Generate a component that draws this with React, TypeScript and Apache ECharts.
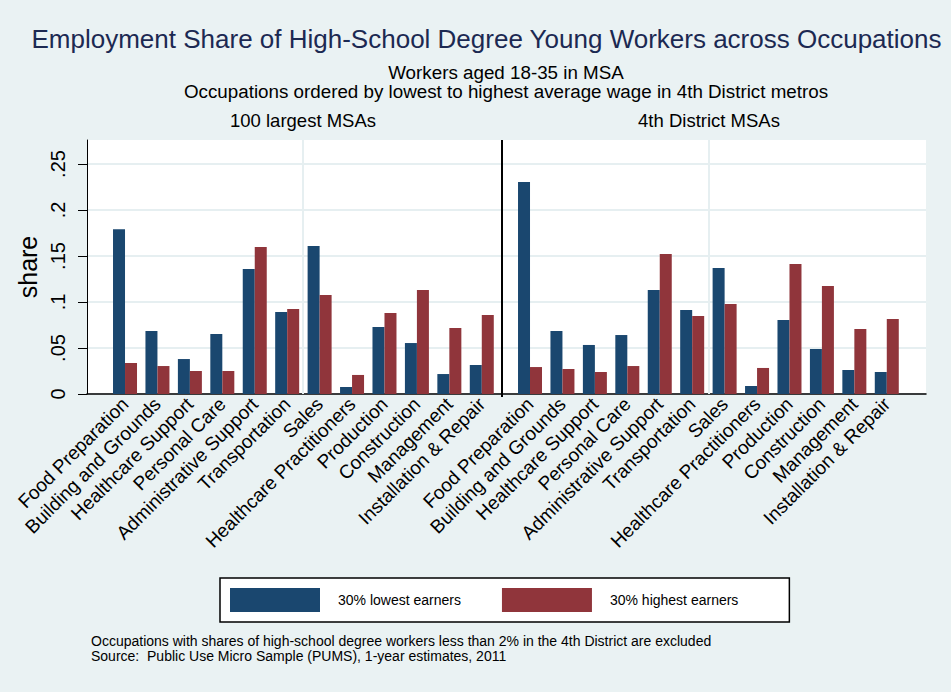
import React, { useEffect, useRef } from "react";
import * as echarts from "echarts";

const occupations = [
  "Food Preparation",
  "Building and Grounds",
  "Healthcare Support",
  "Personal Care",
  "Administrative Support",
  "Transportation",
  "Sales",
  "Healthcare Practitioners",
  "Production",
  "Construction",
  "Management",
  "Installation & Repair",
];

const largestLow = [0.179, 0.0685, 0.038, 0.0652, 0.1359, 0.0891, 0.1609, 0.0076, 0.0728, 0.0554, 0.0217, 0.0315];
const largestHigh = [0.0337, 0.0304, 0.025, 0.025, 0.1598, 0.0924, 0.1076, 0.0207, 0.088, 0.113, 0.0717, 0.0859];
const districtLow = [0.2304, 0.0685, 0.0533, 0.0641, 0.113, 0.0913, 0.137, 0.0087, 0.0804, 0.0489, 0.0261, 0.0239];
const districtHigh = [0.0293, 0.0272, 0.0239, 0.0304, 0.1522, 0.0848, 0.0978, 0.0283, 0.1413, 0.1174, 0.0707, 0.0815];

const yTicks = [0, 0.05, 0.1, 0.15, 0.2, 0.25];
const panelTitles = ["100 largest MSAs", "4th District MSAs"];
const seriesNames = ["30% lowest earners", "30% highest earners"];

const TITLE = "Employment Share of High-School Degree Young Workers across Occupations";
const SUB1 = "Workers aged 18-35 in MSA";
const SUB2 = "Occupations ordered by lowest to highest average wage in 4th District metros";
const NOTE1 = "Occupations with shares of high-school degree workers less than 2% in the 4th District are excluded";
const NOTE2 = "Source:\u00A0 Public Use Micro Sample (PUMS), 1-year estimates, 2011";

const FONT = "'Liberation Sans', Arial, Helvetica, sans-serif";
const NAVY = "#1a476f";
const MAROON = "#90353b";
const BG = "#eaf2f3";
const GRIDLINE = "#e6eff1";
const Y_MAX = 0.27609;

const fmt = (v: number) => {
  if (!yTicks.some((t) => Math.abs(t - v) < 1e-9)) return "";
  if (v === 0) return "0";
  return String(Math.round(v * 100) / 100).replace(/^0/, "");
};

export default function App() {
  const ref = useRef<HTMLDivElement>(null);
  useEffect(() => {
    if (!ref.current) return;
    const chart = echarts.init(ref.current, undefined, { renderer: "svg" });
    const plotTop = 140;
    const plotH = 254;
    const xCatAxis = (gridIndex: number) => ({
      type: "category",
      gridIndex,
      data: occupations,
      axisLine: { show: false },
      axisTick: { show: false },
      axisLabel: {
        interval: 0,
        rotate: 45,
        fontSize: 19,
        fontFamily: FONT,
        color: "#000",
        margin: 7,
      },
    });
    const hiddenY = (gridIndex: number) => ({
      type: "value",
      gridIndex,
      min: 0,
      max: Y_MAX,
      show: false,
    });
    const barBase = {
      type: "bar",
      barWidth: 12,
      barGap: "0%",
    };
    chart.setOption({
      animation: false,
      backgroundColor: BG,
      textStyle: { fontFamily: FONT },
      grid: [
        {
          left: 87,
          top: plotTop,
          width: 839,
          height: plotH,
          show: true,
          backgroundColor: "#ffffff",
          borderWidth: 0,
        },
        { left: 108.8, top: plotTop, width: 389.2, height: plotH },
        { left: 513.8, top: plotTop, width: 389.2, height: plotH },
      ],
      xAxis: [
        {
          type: "value",
          gridIndex: 0,
          min: 0,
          max: 1,
          axisLine: { show: true, lineStyle: { color: "#000", width: 1.5 } },
          axisTick: { show: false },
          axisLabel: { show: false },
          splitLine: { show: false },
        },
        xCatAxis(1),
        xCatAxis(2),
      ],
      yAxis: [
        {
          type: "value",
          gridIndex: 0,
          min: 0,
          max: Y_MAX,
          interval: 0.05,
          name: "share",
          nameLocation: "middle",
          nameRotate: 90,
          nameGap: 47,
          nameTextStyle: { fontSize: 25, fontFamily: FONT, color: "#000" },
          axisLine: { show: true, lineStyle: { color: "#000", width: 1 } },
          axisTick: {
            show: true,
            length: 9,
            customValues: yTicks,
            lineStyle: { color: "#000", width: 1 },
          },
          axisLabel: {
            rotate: 90,
            fontSize: 20,
            lineHeight: 20,
            margin: 19,
            color: "#000",
            fontFamily: FONT,
            customValues: yTicks,
            formatter: fmt,
          },
          splitLine: { show: true, lineStyle: { color: GRIDLINE, width: 2 } },
        },
        hiddenY(1),
        hiddenY(2),
      ],
      legend: {
        data: seriesNames.map((name) => ({ name })),
        left: 220,
        top: 578,
        orient: "horizontal",
        icon: "rect",
        itemWidth: 90,
        itemHeight: 24,
        itemGap: 41,
        padding: [10, 51, 10, 10],
        backgroundColor: "#ffffff",
        borderColor: "#000",
        borderWidth: 1.5,
        borderRadius: 0,
        selectedMode: false,
        textStyle: {
          fontSize: 14,
          fontFamily: FONT,
          color: "#000",
          padding: [0, 0, 0, 13],
        },
      },
      series: [
        { ...barBase, name: seriesNames[0], xAxisIndex: 1, yAxisIndex: 1, data: largestLow, itemStyle: { color: NAVY } },
        { ...barBase, name: seriesNames[1], xAxisIndex: 1, yAxisIndex: 1, data: largestHigh, itemStyle: { color: MAROON } },
        { ...barBase, name: seriesNames[0], xAxisIndex: 2, yAxisIndex: 2, data: districtLow, itemStyle: { color: NAVY } },
        { ...barBase, name: seriesNames[1], xAxisIndex: 2, yAxisIndex: 2, data: districtHigh, itemStyle: { color: MAROON } },
      ],
      graphic: [
        {
          type: "line",
          z: 1,
          silent: true,
          shape: { x1: 303, y1: plotTop, x2: 303, y2: plotTop + plotH },
          style: { stroke: GRIDLINE, lineWidth: 2 },
        },
        {
          type: "line",
          z: 1,
          silent: true,
          shape: { x1: 709, y1: plotTop, x2: 709, y2: plotTop + plotH },
          style: { stroke: GRIDLINE, lineWidth: 2 },
        },
        {
          type: "line",
          z: 50,
          silent: true,
          shape: { x1: 502, y1: plotTop, x2: 502, y2: plotTop + plotH + 3 },
          style: { stroke: "#000", lineWidth: 2 },
        },
        {
          type: "text",
          x: 486.5,
          y: 39,
          style: {
            text: TITLE,
            fontSize: 26,
            fontFamily: FONT,
            fill: "#1c2952",
            align: "center",
            verticalAlign: "middle",
          },
        },
        {
          type: "text",
          x: 506,
          y: 72,
          style: { text: SUB1, fontSize: 18.8, fontFamily: FONT, fill: "#000", align: "center", verticalAlign: "middle" },
        },
        {
          type: "text",
          x: 506,
          y: 91,
          style: { text: SUB2, fontSize: 18.8, fontFamily: FONT, fill: "#000", align: "center", verticalAlign: "middle" },
        },
        {
          type: "text",
          x: 303,
          y: 120,
          style: { text: panelTitles[0], fontSize: 18.5, fontFamily: FONT, fill: "#000", align: "center", verticalAlign: "middle" },
        },
        {
          type: "text",
          x: 709,
          y: 120,
          style: { text: panelTitles[1], fontSize: 18.5, fontFamily: FONT, fill: "#000", align: "center", verticalAlign: "middle" },
        },
        {
          type: "text",
          x: 91,
          y: 641,
          style: { text: NOTE1, fontSize: 14, fontFamily: FONT, fill: "#000", align: "left", verticalAlign: "middle" },
        },
        {
          type: "text",
          x: 91,
          y: 656,
          style: { text: NOTE2, fontSize: 14, fontFamily: FONT, fill: "#000", align: "left", verticalAlign: "middle" },
        },
      ],
    });
    return () => chart.dispose();
  }, []);
  return (
    <div
      ref={ref}
      style={{ position: "absolute", left: 0, top: 0, width: 951, height: 692 }}
    />
  );
}
